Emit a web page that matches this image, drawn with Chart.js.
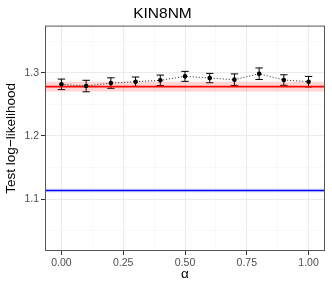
<!DOCTYPE html>
<html>
<head>
<meta charset="utf-8">
<script src="https://cdn.jsdelivr.net/npm/chart.js@4.4.1/dist/chart.umd.min.js"></script>
<style>
  html, body { margin: 0; padding: 0; background: #fff; }
  #wrap { width: 332px; height: 285px; }
</style>
</head>
<body>
<div id="wrap"><canvas id="c" width="332" height="285"></canvas></div>
<script>
// data
const alphas = [0, 0.1, 0.2, 0.3, 0.4, 0.5, 0.6, 0.7, 0.8, 0.9, 1.0];
const meanLL = [1.2816, 1.2789, 1.2836, 1.2858, 1.2879, 1.2942, 1.2915, 1.2890, 1.2984, 1.2884, 1.2858];
const errLL = [0.0083, 0.0091, 0.0083, 0.0074, 0.0083, 0.0079, 0.0074, 0.0091, 0.0091, 0.0083, 0.0083];

// reference lines (value, band half width)
const redRef = [1.278, 0.0078];
const blueRef = [1.1137, 0.003];

// axis ticks
const xTicks = [0, 0.125, 0.25, 0.375, 0.5, 0.625, 0.75, 0.875, 1.0];
const yTicks = [1.05, 1.1, 1.15, 1.2, 1.25, 1.3, 1.35];
const xMajor = [0, 0.25, 0.5, 0.75, 1.0];
const yMajor = [1.1, 1.2, 1.3];

const isMajor = (list, v) => list.some(m => Math.abs(m - v) < 1e-9);

// 误差线 + 参考线
const refPlugin = {
    id: 'refs',
    beforeDatasetsDraw(chart) {
        const ctx = chart.ctx;
        const xs = chart.scales.x, ys = chart.scales.y;
        const area = chart.chartArea;
        ctx.save();
        ctx.beginPath();
        ctx.rect(area.left, area.top, area.right - area.left, area.bottom - area.top);
        ctx.clip();

        // error bars
        ctx.strokeStyle = '#000';
        ctx.lineWidth = 1;
        alphas.forEach((a, i) => {
            const x = xs.getPixelForValue(a);
            const xl = xs.getPixelForValue(a - 0.015);
            const xr = xs.getPixelForValue(a + 0.015);
            const yt = ys.getPixelForValue(meanLL[i] + errLL[i]);
            const yb = ys.getPixelForValue(meanLL[i] - errLL[i]);
            ctx.beginPath();
            ctx.moveTo(x, yt); ctx.lineTo(x, yb);
            ctx.moveTo(xl, yt); ctx.lineTo(xr, yt);
            ctx.moveTo(xl, yb); ctx.lineTo(xr, yb);
            ctx.stroke();
        });

        // bands and lines
        const drawRef = (ref, band, line) => {
            const y0 = ys.getPixelForValue(ref[0] + ref[1]);
            const y1 = ys.getPixelForValue(ref[0] - ref[1]);
            ctx.fillStyle = band;
            ctx.fillRect(area.left, y0, area.right - area.left, y1 - y0);
            const y = ys.getPixelForValue(ref[0]);
            ctx.strokeStyle = line;
            ctx.lineWidth = 1.6;
            ctx.beginPath();
            ctx.moveTo(area.left, y); ctx.lineTo(area.right, y);
            ctx.stroke();
        };
        drawRef(redRef, 'rgba(255, 0, 0, 0.16)', '#ff0000');
        drawRef(blueRef, 'rgba(0, 0, 255, 0.12)', '#0000ff');
        ctx.restore();
    },
    afterDraw(chart) {
        // panel border
        const ctx = chart.ctx, a = chart.chartArea;
        ctx.save();
        ctx.strokeStyle = '#555';
        ctx.lineWidth = 1;
        ctx.strokeRect(a.left + 0.5, a.top + 0.5, a.right - a.left - 1, a.bottom - a.top - 1);
        ctx.restore();
    }
};

const ctx = document.getElementById('c').getContext('2d');
new Chart(ctx, {
    type: 'scatter',
    data: {
        datasets: [{
            data: alphas.map((a, i) => ({ x: a, y: meanLL[i] })),
            showLine: true,
            borderColor: '#222',
            borderWidth: 1,
            borderDash: [1, 2],
            pointRadius: 2.3,
            pointBackgroundColor: '#000',
            pointBorderWidth: 0
        }]
    },
    options: {
        responsive: false,
        animation: false,
        layout: { padding: { left: 0, right: 7, top: 0, bottom: 0 } },
        plugins: {
            legend: { display: false },
            tooltip: { enabled: false },
            title: {
                display: true,
                text: 'KIN8NM',
                color: '#000',
                font: { family: 'Liberation Sans', size: 15.5, weight: 'normal' },
                padding: { top: 4, bottom: 3 }
            }
        },
        scales: {
            x: {
                type: 'linear',
                min: -0.0665,
                max: 1.0665,
                afterBuildTicks(scale) { scale.ticks = xTicks.map(v => ({ value: v })); },
                afterFit(scale) { scale.height = 34; },
                border: { display: false },
                grid: {
                    color: c => isMajor(xMajor, c.tick.value) ? '#ebebeb' : '#f4f4f4',
                    lineWidth: c => isMajor(xMajor, c.tick.value) ? 1 : 0.6,
                    tickColor: c => isMajor(xMajor, c.tick.value) ? '#333' : 'rgba(0,0,0,0)',
                    tickLength: 4
                },
                ticks: {
                    autoSkip: false,
                    maxRotation: 0,
                    padding: 2,
                    color: '#4d4d4d',
                    font: { family: 'Liberation Sans', size: 10.5 },
                    callback: v => isMajor(xMajor, v) ? v.toFixed(2) : ''
                },
                title: {
                    display: true,
                    text: 'α',
                    color: '#000',
                    font: { family: 'Liberation Sans', size: 13.5 },
                    padding: { top: 0, bottom: 3 }
                }
            },
            y: {
                type: 'linear',
                min: 1.018,
                max: 1.3745,
                afterBuildTicks(scale) { scale.ticks = yTicks.map(v => ({ value: v })); },
                afterFit(scale) { scale.width = 45; },
                border: { display: false },
                grid: {
                    color: c => isMajor(yMajor, c.tick.value) ? '#ebebeb' : '#f4f4f4',
                    lineWidth: c => isMajor(yMajor, c.tick.value) ? 1 : 0.6,
                    tickColor: c => isMajor(yMajor, c.tick.value) ? '#333' : 'rgba(0,0,0,0)',
                    tickLength: 4
                },
                ticks: {
                    autoSkip: false,
                    padding: 2,
                    color: '#4d4d4d',
                    font: { family: 'Liberation Sans', size: 10.5 },
                    callback: v => isMajor(yMajor, v) ? v.toFixed(1) : ''
                },
                title: {
                    display: true,
                    text: 'Test log−likelihood',
                    color: '#000',
                    font: { family: 'Liberation Sans', size: 13.5 },
                    padding: { top: 3, bottom: 0 }
                }
            }
        }
    },
    plugins: [refPlugin]
});
</script>
</body>
</html>
